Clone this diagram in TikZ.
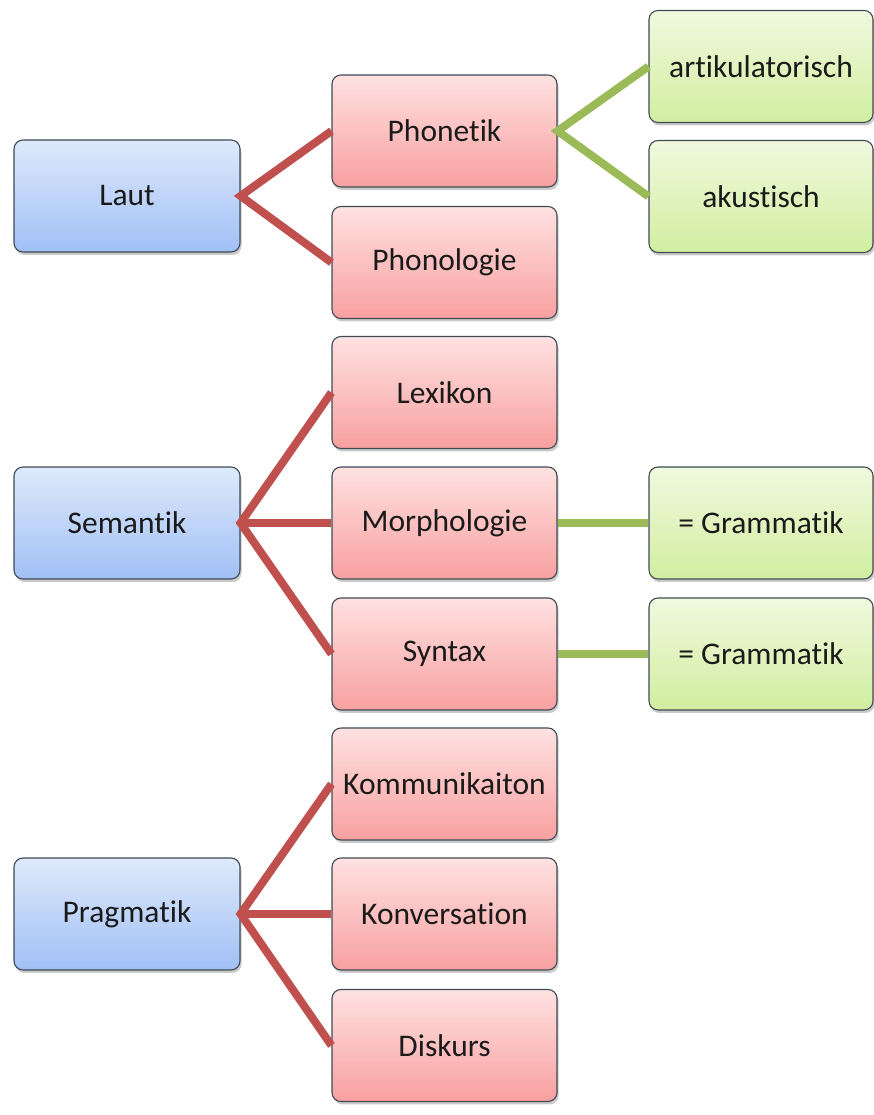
\documentclass[tikz,border=0pt]{standalone}
\usepackage{fontspec}
\setmainfont[RawFeature={-liga}]{Carlito}
\usetikzlibrary{shadows}
\definecolor{redline}{HTML}{C0504D}
\definecolor{greenline}{HTML}{9BBB59}
\definecolor{boxborder}{HTML}{3F4A55}
\definecolor{txt}{HTML}{1A1A1A}
\tikzset{
  box/.style={draw=boxborder, line width=1.1pt, rounded corners=9pt,
    minimum height=112pt, inner sep=0pt, font=\fontsize{31.5}{36}\selectfont, text=txt,
    drop shadow={shadow xshift=1.5pt, shadow yshift=-3pt, opacity=0.35, fill=black!60}},
  bluebox/.style={box, minimum width=226pt, top color={rgb,255:red,222;green,233;blue,251}, bottom color={rgb,255:red,160;green,192;blue,245}},
  redbox/.style={box, minimum width=225pt, top color={rgb,255:red,255;green,225;blue,225}, bottom color={rgb,255:red,248;green,160;blue,160}},
  greenbox/.style={box, minimum width=224pt, top color={rgb,255:red,240;green,249;blue,222}, bottom color={rgb,255:red,210;green,238;blue,160}},
  redlink/.style={draw=redline, line width=8pt},
  greenlink/.style={draw=greenline, line width=8pt}
}
\begin{document}
\begin{tikzpicture}[x=1pt,y=1pt]
\useasboundingbox (0,0) rectangle (874,1115);
% blue
\node[bluebox] (laut) at (127,919) {Laut};
\node[bluebox] (sem) at (127,592) {Semantik};
\node[bluebox] (prag) at (127,201) {Pragmatik};
% red
\node[redbox] (phonetik) at (444.5,984) {Phonetik};
\node[redbox] (phonologie) at (444.5,852.5) {Phonologie};
\node[redbox] (lexikon) at (444.5,722.5) {Lexikon};
\node[redbox] (morph) at (444.5,592) {Morphologie};
\node[redbox] (syntax) at (444.5,461) {Syntax};
\node[redbox] (komm) at (444.5,331) {Kommunikaiton};
\node[redbox] (konv) at (444.5,201) {Konversation};
\node[redbox] (disk) at (444.5,69.5) {Diskurs};
% green
\node[greenbox] (artik) at (761,1048.5) {artikulatorisch};
\node[greenbox] (akust) at (761,918.5) {akustisch};
\node[greenbox] (gram1) at (761,592) {= Grammatik};
\node[greenbox] (gram2) at (761,461) {= Grammatik};
% connectors
\draw[redlink] (phonetik.west) -- (laut.east) -- (phonologie.west);
\draw[redlink] (lexikon.west) -- (sem.east) -- (syntax.west);
\draw[redlink] (sem.east) -- (morph.west);
\draw[redlink] (komm.west) -- (prag.east) -- (disk.west);
\draw[redlink] (prag.east) -- (konv.west);
\draw[greenlink] (artik.west) -- (phonetik.east) -- (akust.west);
\draw[greenlink] (morph.east) -- (gram1.west);
\draw[greenlink] (syntax.east) -- (gram2.west);
\end{tikzpicture}
\end{document}
